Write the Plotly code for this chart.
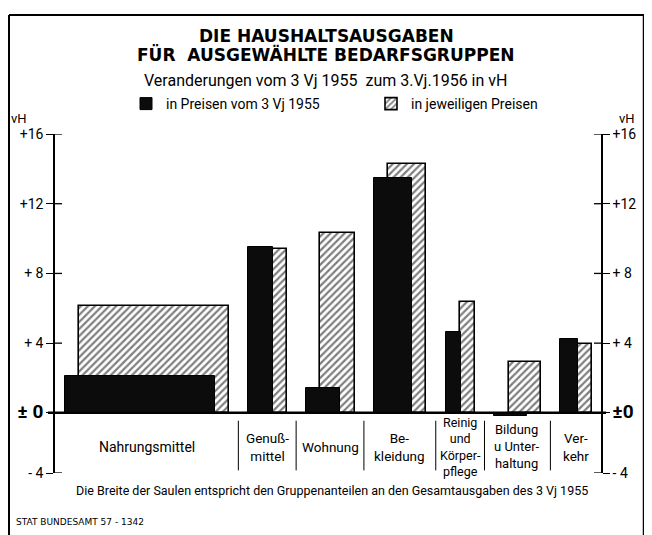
import plotly.graph_objects as go

# ---- data ----
categories = ["Nahrungsmittel", "Genußmittel", "Wohnung", "Bekleidung",
              "Reinigung und Körperpflege", "Bildung und Unterhaltung", "Verkehr"]
labels = ["Nahrungsmittel", "Genuß-<br>mittel", "Wohnung", "Be-<br>kleidung",
          "Reinig<br>und<br>Körper-<br>pflege", "Bildung<br>u Unter-<br>haltung", "Ver-<br>kehr"]
label_sizes = [14, 13.5, 13.5, 13.5, 12.5, 13, 13.5]
shares = [48.0, 7.8, 11.0, 12.3, 4.9, 10.4, 5.5]           # % of total spending 3.Vj 1955
const_prices = [2.1, 9.5, 1.45, 13.45, 4.65, -0.2, 4.25]  # in Preisen vom 3.Vj 1955
curr_prices = [6.15, 9.4, 10.3, 14.3, 6.35, 2.9, 3.95]    # in jeweiligen Preisen
tick_vals = [-3.45, 0, 4, 8, 12, 16]
tick_left = ["- 4", "<span style='font-size:19px'><b>± 0</b></span>", "+ 4", "+ 8", "+12", "+16"]
tick_right = ["- 4", "<span style='font-size:19px'><b>±0</b></span>", "+ 4", "+ 8", "+12", "+16"]

# ---- layout helpers (x axis in share units) ----
GAP_L, OFFSET, GAP_R = 3.2, 4.5, 3.0
slot_edges = [0.0]
for s in shares:
    slot_edges.append(slot_edges[-1] + GAP_L + s + OFFSET + GAP_R)
x_black = [slot_edges[i] + GAP_L + s / 2 for i, s in enumerate(shares)]
x_hatch = [x + OFFSET for x in x_black]
x_mid = [(slot_edges[i] + slot_edges[i + 1]) / 2 for i in range(len(shares))]
XMAX = slot_edges[-1]

NARROW = "Roboto, Liberation Sans, sans-serif"
BOLD = "DejaVu Sans, Verdana, sans-serif"

fig = go.Figure()
fig.add_trace(go.Bar(
    x=x_hatch, y=curr_prices, width=shares, name="in jeweiligen Preisen",
    customdata=categories, hovertemplate="%{customdata}: %{y} vH<extra></extra>",
    marker=dict(color="white", line=dict(color="black", width=1.6),
                pattern=dict(shape="/", fgcolor="black", bgcolor="white", size=5, solidity=0.45)),
    legendrank=2,
))
fig.add_trace(go.Bar(
    x=x_black, y=const_prices, width=shares, name="in Preisen vom 3 Vj 1955",
    customdata=categories, hovertemplate="%{customdata}: %{y} vH<extra></extra>",
    marker=dict(color="#0c0c0c", line=dict(color="black", width=1)),
    legendrank=1,
))
# invisible copy on the right-hand axis so that it is rendered
fig.add_trace(go.Bar(
    x=x_hatch, y=curr_prices, width=shares, yaxis="y2", opacity=0,
    showlegend=False, hoverinfo="skip",
))

# screenshot pixel -> paper coordinates (plot area spans x 55..601, y 134..473 on screen)
PX_W, PX_H = 546.0, 339.0
def px_x(p):
    return (p - 55) / PX_W
def px_y(p):
    return (473 - p) / PX_H

shapes = []
shapes.append(dict(type="line", xref="paper", yref="y", x0=px_x(48), x1=px_x(606), y0=0, y1=0,
                   line=dict(color="black", width=2.5), layer="above"))
for e in slot_edges[1:-1]:
    shapes.append(dict(type="line", xref="x", yref="y", x0=e, x1=e, y0=-0.45, y1=-3.3,
                       line=dict(color="black", width=1)))
for v in tick_vals:
    shapes.append(dict(type="line", xref="paper", yref="y", x0=0, x1=px_x(62), y0=v, y1=v,
                       line=dict(color="black", width=1.3)))
    shapes.append(dict(type="line", xref="paper", yref="y", x0=px_x(594), x1=1, y0=v, y1=v,
                       line=dict(color="black", width=1.3)))
shapes.append(dict(type="line", xref="paper", yref="paper", x0=px_x(9), x1=px_x(9),
                   y0=px_y(15), y1=px_y(535), line=dict(color="black", width=2)))
shapes.append(dict(type="line", xref="paper", yref="paper", x0=px_x(644), x1=px_x(644),
                   y0=px_y(15), y1=px_y(535), line=dict(color="black", width=2.5)))
shapes.append(dict(type="line", xref="paper", yref="paper", x0=px_x(9), x1=px_x(644),
                   y0=px_y(15), y1=px_y(15), line=dict(color="black", width=2)))

def ann(x, y, text, font, xanchor="center", xref="paper", yref="paper"):
    return dict(x=x, y=y, xref=xref, yref=yref, text=text, showarrow=False, font=font,
                xanchor=xanchor, yanchor="middle", align="center")

annotations = []
for xm, lab, sz in zip(x_mid, labels, label_sizes):
    annotations.append(ann(xm, -1.95, lab, dict(family=NARROW, size=sz, color="black"),
                           xref="x", yref="y"))
annotations += [
    ann(px_x(326), px_y(36), "<b>DIE HAUSHALTSAUSGABEN</b>", dict(family=BOLD, size=17, color="black")),
    ann(px_x(326), px_y(54), "<b>FÜR  AUSGEWÄHLTE BEDARFSGRUPPEN</b>",
        dict(family=BOLD, size=17, color="black")),
    ann(px_x(325), px_y(80), "Veranderungen vom 3 Vj 1955  zum 3.Vj.1956 in vH",
        dict(family=NARROW, size=16, color="black")),
    ann(px_x(19), px_y(118), "vH", dict(family=NARROW, size=13, color="black")),
    ann(px_x(627), px_y(118), "vH", dict(family=NARROW, size=13, color="black")),
    ann(px_x(332), px_y(490), "Die Breite der Saulen entspricht den Gruppenanteilen an den Gesamtausgaben des 3 Vj 1955",
        dict(family=NARROW, size=12.5, color="black")),
    ann(px_x(14), px_y(522), "STAT BUNDESAMT 57 - 1342", dict(family=BOLD, size=9, color="black"),
        xanchor="left"),
]

fig.update_layout(
    width=644, height=527,
    margin=dict(l=47, r=51, t=126, b=62, autoexpand=False),
    paper_bgcolor="white", plot_bgcolor="white",
    barmode="overlay", bargap=0,
    showlegend=True,
    legend=dict(orientation="h", x=px_x(126), y=px_y(104), xanchor="left", yanchor="middle",
                font=dict(family=NARROW, size=14, color="black"), bgcolor="rgba(0,0,0,0)",
                entrywidth=200, entrywidthmode="pixels", itemwidth=30),
    xaxis=dict(range=[0, XMAX], showgrid=False, zeroline=False, showline=False,
               showticklabels=False, ticks=""),
    yaxis=dict(range=[-3.45, 16], tickvals=tick_vals, ticktext=tick_left, showgrid=False,
               zeroline=False, showline=True, linecolor="black", linewidth=1.5,
               ticks="outside", ticklen=7, tickcolor="black", tickwidth=1.3,
               tickfont=dict(family=NARROW, size=14, color="black")),
    yaxis2=dict(range=[-3.45, 16], overlaying="y", side="right", tickvals=tick_vals,
                ticktext=tick_right, showgrid=False, zeroline=False, showline=True,
                linecolor="black", linewidth=1.5, ticks="outside", ticklen=7,
                tickcolor="black", tickwidth=1.3,
                tickfont=dict(family=NARROW, size=14, color="black")),
    shapes=shapes, annotations=annotations,
)

fig.write_html("out.html")
